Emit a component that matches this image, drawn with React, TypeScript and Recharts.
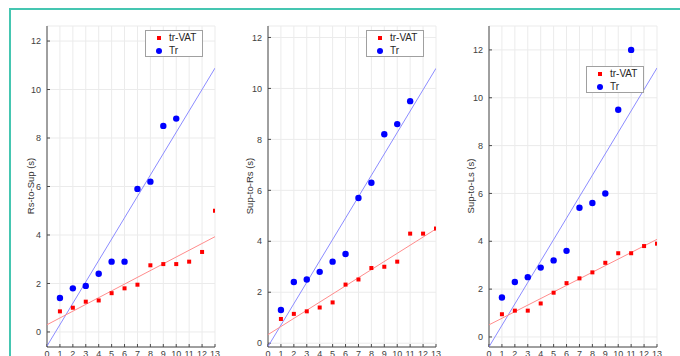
import { ScatterChart, Scatter, XAxis, YAxis, CartesianGrid, Legend } from 'recharts';

const trials = [1, 2, 3, 4, 5, 6, 7, 8, 9, 10, 11, 12, 13];
const xTicks = [0, 1, 2, 3, 4, 5, 6, 7, 8, 9, 10, 11, 12, 13];
const yTicks = [0, 2, 4, 6, 8, 10, 12];

const seriesNames = ['tr-VAT', 'Tr'];
const axisLabels = ['Rs-to-Sup (s)', 'Sup-to-Rs (s)', 'Sup-to-Ls (s)'];

const rsToSupVat = [0.85, 1.0, 1.25, 1.3, 1.6, 1.8, 1.95, 2.75, 2.8, 2.8, 2.9, 3.3, 5.0];
const rsToSupTr = [1.4, 1.8, 1.9, 2.4, 2.9, 2.9, 5.9, 6.2, 8.5, 8.8];
const supToRsVat = [0.95, 1.15, 1.25, 1.4, 1.6, 2.3, 2.5, 2.95, 3.0, 3.2, 4.3, 4.3, 4.5];
const supToRsTr = [1.3, 2.4, 2.5, 2.8, 3.2, 3.5, 5.7, 6.3, 8.2, 8.6, 9.5];
const supToLsVat = [0.95, 1.1, 1.1, 1.4, 1.85, 2.25, 2.45, 2.7, 3.1, 3.5, 3.5, 3.8, 3.9];
const supToLsTr = [1.65, 2.3, 2.5, 2.9, 3.2, 3.6, 5.4, 5.6, 6.0, 9.5, 12.0];

const FONT = '"Liberation Sans", Arial, sans-serif';
const RED = '#ff0000';
const BLUE = '#0000ff';

const toPoints = (ys: number[]) => ys.map((y, i) => ({ x: trials[i], y }));

// least-squares fit, drawn across the whole x range
function fitLine(ys: number[]) {
  const xs = trials.slice(0, ys.length);
  const n = ys.length;
  const mx = xs.reduce((a, b) => a + b, 0) / n;
  const my = ys.reduce((a, b) => a + b, 0) / n;
  let sxy = 0;
  let sxx = 0;
  xs.forEach((x, i) => {
    sxy += (x - mx) * (ys[i] - my);
    sxx += (x - mx) * (x - mx);
  });
  const slope = sxy / sxx;
  const icpt = my - slope * mx;
  const xMin = xTicks[0];
  const xMax = xTicks[xTicks.length - 1];
  return [xMin, xMax].map((x) => ({ x, y: icpt + slope * x }));
}

const panels = [
  { label: axisLabels[0], vat: rsToSupVat, tr: rsToSupTr, left: 10, width: 220, yw: 37, yDomain: [-0.62, 12.62], legend: { left: 135, top: 30 }, labelX: 20 },
  { label: axisLabels[1], vat: supToRsVat, tr: supToRsTr, left: 230, width: 220, yw: 38, yDomain: [-0.15, 12.45], legend: { left: 136, top: 30 }, labelX: 19 },
  { label: axisLabels[2], vat: supToLsVat, tr: supToLsTr, left: 450, width: 225, yw: 39, yDomain: [-0.42, 13.0], legend: { left: 136, top: 66 }, labelX: 20 },
];

const VatMarker = (props: any) => (
  <rect x={props.cx - 2} y={props.cy - 2} width={4} height={4} fill={RED} />
);
const TrMarker = (props: any) => <circle cx={props.cx} cy={props.cy} r={3.2} fill={BLUE} />;
const NoMarker = () => <g />;

function LegendBox() {
  return (
    <div
      style={{
        position: 'relative',
        width: 56,
        height: 25,
        border: '1px solid #a0a0a0',
        background: '#fff',
        fontFamily: FONT,
        fontSize: 10,
        color: '#262626',
      }}
    >
      {seriesNames.map((name, i) => (
        <div key={name} style={{ position: 'absolute', left: 0, top: i * 13, height: 13, width: '100%' }}>
          {i === 0 ? (
            <span style={{ position: 'absolute', left: 11, top: 4.5, width: 4, height: 4, background: RED }} />
          ) : (
            <span style={{ position: 'absolute', left: 10, top: 3.5, width: 6, height: 6, borderRadius: 3, background: BLUE }} />
          )}
          <span style={{ position: 'absolute', left: 23, top: 0, lineHeight: '13px' }}>{name}</span>
        </div>
      ))}
    </div>
  );
}

function Panel({ p }: { p: (typeof panels)[number] }) {
  const plotW = 168;
  return (
    <div style={{ position: 'absolute', left: p.left, top: 0 }}>
      <ScatterChart
        width={p.width}
        height={356}
        margin={{ top: 26, right: p.width - p.yw - plotW, bottom: 0, left: 0 }}
        style={{ fontFamily: FONT }}
      >
        <CartesianGrid stroke="#ebebeb" />
        <XAxis
          type="number"
          dataKey="x"
          domain={[0, 13]}
          ticks={xTicks}
          interval={0}
          allowDataOverflow
          height={9}
          tickSize={-3}
          tickMargin={7}
          axisLine={{ stroke: '#4a4a4a' }}
          tickLine={{ stroke: '#4a4a4a' }}
          tick={{ fontSize: 9, fill: '#404040' }}
        />
        <YAxis
          type="number"
          dataKey="y"
          domain={p.yDomain}
          ticks={yTicks}
          interval={0}
          allowDataOverflow
          width={p.yw}
          tickSize={-3}
          tickMargin={9}
          axisLine={{ stroke: '#4a4a4a' }}
          tickLine={{ stroke: '#4a4a4a' }}
          tick={{ fontSize: 9, fill: '#404040' }}
          label={{
            content: () => (
              <text
                x={p.labelX}
                y={186}
                transform={`rotate(-90 ${p.labelX} 186)`}
                textAnchor="middle"
                dominantBaseline="central"
                fontSize={9.5}
                fill="#333"
                fontFamily={FONT}
              >
                {p.label}
              </text>
            ),
          }}
        />
        <Scatter
          data={fitLine(p.tr)}
          line={{ stroke: '#8c8cff', strokeWidth: 1 }}
          shape={NoMarker}
          legendType="none"
          isAnimationActive={false}
        />
        <Scatter
          data={fitLine(p.vat)}
          line={{ stroke: '#ff8c8c', strokeWidth: 1 }}
          shape={NoMarker}
          legendType="none"
          isAnimationActive={false}
        />
        <Scatter name={seriesNames[0]} data={toPoints(p.vat)} shape={VatMarker} isAnimationActive={false} />
        <Scatter name={seriesNames[1]} data={toPoints(p.tr)} shape={TrMarker} isAnimationActive={false} />
        <Legend
          layout="vertical"
          align="center"
          verticalAlign="middle"
          content={() => <LegendBox />}
          wrapperStyle={{ left: p.legend.left, top: p.legend.top, width: 58 }}
        />
      </ScatterChart>
    </div>
  );
}

export default function App() {
  return (
    <div style={{ position: 'fixed', left: 0, top: 0, width: 680, height: 356, background: '#fff', overflow: 'hidden' }}>
      <div
        style={{
          position: 'absolute',
          left: 9,
          top: 8,
          width: 700,
          height: 400,
          borderTop: '2px solid #45c6b1',
          borderLeft: '2px solid #45c6b1',
        }}
      />
      {panels.map((p) => (
        <Panel key={p.label} p={p} />
      ))}
    </div>
  );
}
